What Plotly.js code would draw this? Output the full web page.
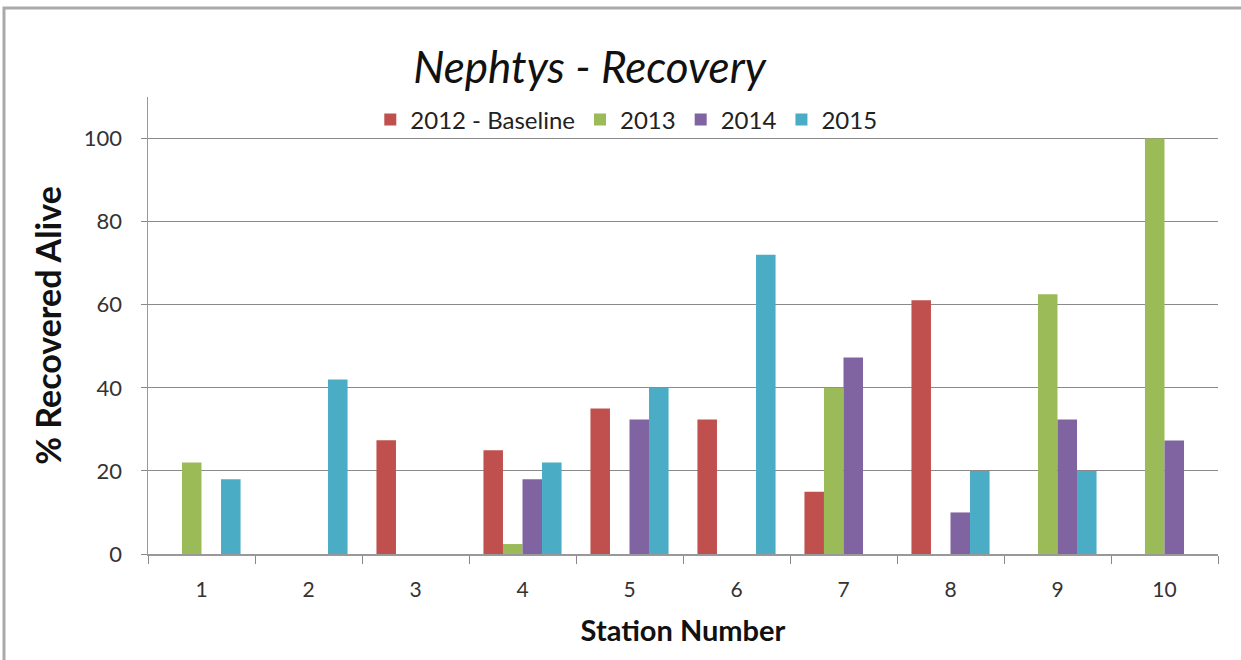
<!DOCTYPE html>
<html>
<head>
<meta charset="utf-8">
<script src="https://cdn.plot.ly/plotly-3.0.1.min.js"></script>
<style>
  html, body { margin: 0; padding: 0; background: #fff; }
  #chart { width: 1241px; height: 660px; }
</style>
</head>
<body>
<div id="chart"></div>
<script>
const stations = ["1", "2", "3", "4", "5", "6", "7", "8", "9", "10"];
const seriesNames = ["2012 - Baseline", "2013", "2014", "2015"];
const y2012 = [0, 0, 27.4, 25, 35, 32.4, 15, 61.1, 0, 0];
const y2013 = [22, 0, 0, 2.4, 0, 0, 40, 0, 62.5, 100];
const y2014 = [0, 0, 0, 18, 32.4, 0, 47.3, 10, 32.4, 27.3];
const y2015 = [18, 42, 0, 22, 40, 72, 0, 20, 20, 0];
const colors = ["#C0504D", "#9BBB59", "#8064A2", "#4BACC6"];

const allSeries = [y2012, y2013, y2014, y2015];
const traces = allSeries.map((vals, i) => ({
  type: "bar",
  name: seriesNames[i],
  x: stations,
  y: vals,
  marker: { color: colors[i] }
}));

const font = "Lato, 'Open Sans', sans-serif";
const layout = {
  width: 1241,
  height: 660,
  margin: { l: 148, r: 23, t: 97, b: 106 },
  paper_bgcolor: "#fff",
  plot_bgcolor: "#fff",
  barmode: "group",
  bargap: 0.27,
  bargroupgap: 0,
  font: { family: font, color: "#222" },
  title: {
    text: "<i>Nephtys - Recovery</i>",
    font: { family: font, size: 44, color: "#111" },
    x: 0.475, xref: "container", xanchor: "center",
    y: 0.898, yref: "container", yanchor: "middle"
  },
  showlegend: true,
  legend: {
    orientation: "h",
    x: 0.447, xanchor: "center",
    y: 0.95, yanchor: "middle",
    font: { family: font, size: 24, color: "#222" },
    bgcolor: "rgba(0,0,0,0)",
    itemwidth: 30,
    traceorder: "normal"
  },
  xaxis: {
    type: "category",
    tickson: "boundaries",
    ticks: "outside",
    ticklen: 8,
    tickcolor: "#888",
    showline: true,
    linecolor: "#999",
    linewidth: 1.5,
    showgrid: false,
    tickfont: { family: font, size: 21, color: "#333" },
    ticklabelstandoff: 16,
    title: {
      text: "<b>Station Number</b>",
      font: { family: font, size: 29, color: "#111" },
      standoff: 21
    }
  },
  yaxis: {
    range: [0, 110],
    tickvals: [0, 20, 40, 60, 80, 100],
    ticks: "outside",
    ticklen: 6,
    tickcolor: "#888",
    showline: true,
    linecolor: "#999",
    linewidth: 1.5,
    showgrid: true,
    gridcolor: "#8a8a8a",
    gridwidth: 1,
    zeroline: false,
    tickfont: { family: font, size: 22, color: "#333" },
    ticklabelstandoff: 14,
    title: {
      text: "<b>% Recovered Alive</b>",
      font: { family: font, size: 34, color: "#111" },
      standoff: 12
    }
  },
  shapes: [{
    type: "rect",
    xref: "paper", yref: "paper",
    x0: (4 - 148) / 1070, x1: (1250 - 148) / 1070,
    y0: (554 - 680) / 457, y1: (554 - 8) / 457,
    line: { color: "#aaa", width: 3 },
    fillcolor: "rgba(0,0,0,0)",
    layer: "below"
  }]
};

Plotly.newPlot("chart", traces, layout, { displayModeBar: false, staticPlot: true });
</script>
</body>
</html>
